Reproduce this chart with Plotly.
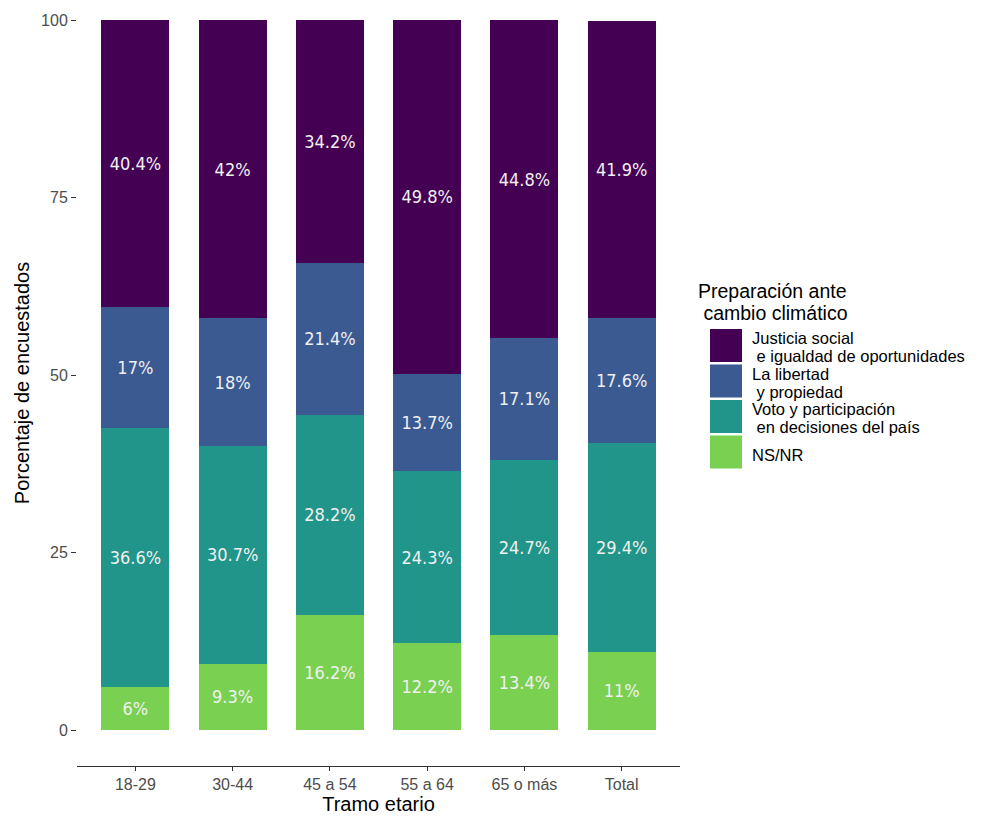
import plotly.graph_objects as go

categories = ["18-29", "30-44", "45 a 54", "55 a 64", "65 o más", "Total"]
series_names = [
    "Justicia social<br> e igualdad de oportunidades",
    "La libertad<br> y propiedad",
    "Voto y participación<br> en decisiones del país",
    "NS/NR",
]
justicia = [40.4, 42.0, 34.2, 49.8, 44.8, 41.9]
libertad = [17.0, 18.0, 21.4, 13.7, 17.1, 17.6]
voto = [36.6, 30.7, 28.2, 24.3, 24.7, 29.4]
nsnr = [6.0, 9.3, 16.2, 12.2, 13.4, 11.0]
y_ticks = [0, 25, 50, 75, 100]
legend_title = ["Preparación ante", " cambio climático"]

colors = ["#440154", "#3B5A92", "#21958A", "#7AD151"]

FONT = "Liberation Sans, Arial, sans-serif"
LABEL_FONT = "Liberation Sans Narrow, DejaVu Sans Condensed, Liberation Sans, sans-serif"

W, H = 985, 817
L, R, T, B = 77, 305, 0, 51
pw, ph = W - L - R, H - T - B

def px_x(x):
    return (x - L) / pw

def px_y(y):
    return 1 - (y - T) / ph

fig = go.Figure()
stack = [(series_names[3], nsnr, colors[3]),
         (series_names[2], voto, colors[2]),
         (series_names[1], libertad, colors[1]),
         (series_names[0], justicia, colors[0])]
for name, vals, col in stack:
    fig.add_trace(go.Bar(
        x=categories, y=vals, name=name,
        marker=dict(color=col, line=dict(width=0)),
        width=0.7,
        text=[f"{v:g}%" for v in vals],
        textposition="inside", insidetextanchor="middle",
        textangle=0, constraintext="none",
        textfont=dict(family=LABEL_FONT, size=18, color="#F0F0F0"),
        showlegend=False,
    ))

# custom legend (keys + text lines)
shapes = []
annotations = []
key_top = 329
key_step = 35.5
key_h = 33
for i, (name, col) in enumerate(zip(series_names, colors)):
    top = key_top + i * key_step
    shapes.append(dict(type="rect", xref="paper", yref="paper",
                       x0=px_x(710), x1=px_x(742), y0=px_y(top), y1=px_y(top + key_h),
                       fillcolor=col, line=dict(width=0)))
    lines = name.split("<br>")
    centers = [top + 9, top + 27] if len(lines) == 2 else [top + 20]
    for line, cy in zip(lines, centers):
        annotations.append(dict(xref="paper", yref="paper", x=px_x(751), y=px_y(cy),
                                text=line, showarrow=False, xanchor="left", yanchor="middle",
                                align="left", borderpad=0,
                                font=dict(family=FONT, size=16.5, color="#000000")))
for line, cy in zip(legend_title, [291, 313]):
    annotations.append(dict(xref="paper", yref="paper", x=px_x(697), y=px_y(cy),
                            text=line, showarrow=False, xanchor="left", yanchor="middle",
                            align="left", borderpad=0,
                            font=dict(family=FONT, size=19.5, color="#000000")))

fig.update_layout(
    width=W, height=H,
    margin=dict(l=L, r=R, t=T, b=B, autoexpand=False),
    paper_bgcolor="white", plot_bgcolor="white",
    barmode="stack", bargap=0.3,
    font=dict(family=FONT),
    shapes=shapes, annotations=annotations,
    xaxis=dict(
        range=[-0.6, 5.6], showgrid=False, showline=True, linecolor="#333333", linewidth=1.3,
        ticks="outside", ticklen=4, tickcolor="#333333", tickwidth=1.2,
        tickfont=dict(size=16, color="#4D4D4D"),
        title=dict(text="Tramo etario", font=dict(size=20, color="#000000"), standoff=4),
        automargin=False,
    ),
    yaxis=dict(
        range=[-5.07, 102.82], showgrid=False, showline=False, zeroline=False,
        tickvals=y_ticks, ticktext=[str(v) for v in y_ticks],
        ticks="outside", ticklen=5, tickcolor="#333333", tickwidth=1.2,
        tickfont=dict(size=16, color="#4D4D4D"),
        title=dict(text="Porcentaje de encuestados", font=dict(size=20, color="#000000"), standoff=6),
        automargin=False,
    ),
)

fig.write_html("out.html", config={"displayModeBar": False},
               post_script="document.body.style.margin='0';")
